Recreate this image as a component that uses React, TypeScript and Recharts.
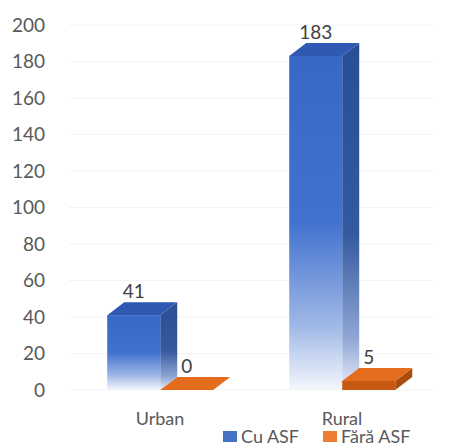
import React from 'react'
import { BarChart, Bar, XAxis, YAxis, CartesianGrid, Legend, LabelList } from 'recharts'

const categories = ['Urban', 'Rural']
const cuAsf = [41, 183]
const faraAsf = [0, 5]
const seriesNames = ['Cu ASF', 'Fără ASF']
const yTicks = [0, 20, 40, 60, 80, 100, 120, 140, 160, 180, 200]

const data = categories.map((name, i) => ({ name, cu: cuAsf[i], fara: faraAsf[i] }))

const DX = 17
const DY = -13
const FONT = 'Lato, "Open Sans", sans-serif'

const palette = {
  blue: { front: 'url(#blueFront)', side: 'url(#blueSide)', top: '#2f59b2', swatch: '#4472c4' },
  orange: { front: '#c65a12', side: '#a94c0d', top: '#e46d1d', swatch: '#ed7d31' },
}

function Box3D(props: any) {
  const { x, y, width: w, height, kind } = props
  const h = Math.max(0, height || 0)
  const c = palette[kind as 'blue' | 'orange']
  return (
    <g>
      <polygon
        points={`${x + w},${y} ${x + w + DX},${y + DY} ${x + w + DX},${y + h + DY} ${x + w},${y + h}`}
        fill={c.side}
      />
      <rect x={x} y={y} width={w} height={h} fill={c.front} />
      <polygon
        points={`${x},${y} ${x + DX},${y + DY} ${x + w + DX},${y + DY} ${x + w},${y}`}
        fill={c.top}
      />
    </g>
  )
}

function ValueLabel(props: any) {
  const { x, y, width, value } = props
  return (
    <text
      x={x + width / 2}
      y={y - 24}
      dy="0.35em"
      textAnchor="middle"
      fill="#404040"
      fontSize={19}
      fontFamily={FONT}
    >
      {value}
    </text>
  )
}

function LegendContent() {
  const colors = [palette.blue.swatch, palette.orange.swatch]
  return (
    <div style={{ display: 'flex', height: 18, lineHeight: '18px', alignItems: 'center', fontFamily: FONT, fontSize: 18, color: '#595959' }}>
      {seriesNames.map((n, i) => (
        <div key={n} style={{ display: 'flex', alignItems: 'center', marginRight: i === 0 ? 24 : 0 }}>
          <span style={{ display: 'inline-block', width: 14, height: 11, background: colors[i], marginRight: 4 }} />
          <span>{n}</span>
        </div>
      ))}
    </div>
  )
}

export default function App() {
  return (
    <div style={{ position: 'absolute', left: 0, top: 0, background: '#fff' }}>
      <BarChart
        width={450}
        height={448}
        data={data}
        margin={{ top: 25, right: 17, bottom: 10, left: 0 }}
        barCategoryGap="21%"
        barGap={0}
      >
        <defs>
          <linearGradient id="blueFront" x1="0" y1="0" x2="0" y2="1">
            <stop offset="0" stopColor="#3868c6" />
            <stop offset="0.5" stopColor="#4272cf" />
            <stop offset="0.8" stopColor="#9db6e6" />
            <stop offset="1" stopColor="#f4f7fc" />
          </linearGradient>
          <linearGradient id="blueSide" x1="0" y1="0" x2="0" y2="1">
            <stop offset="0" stopColor="#2a4e96" />
            <stop offset="0.55" stopColor="#34599f" />
            <stop offset="0.85" stopColor="#8fa6d4" />
            <stop offset="1" stopColor="#e9eef8" />
          </linearGradient>
        </defs>
        <CartesianGrid vertical={false} stroke="#f3f3f3" />
        <XAxis
          dataKey="name"
          axisLine={false}
          tickLine={false}
          tickSize={0}
          tickMargin={22}
          height={30}
          tick={{ fill: '#595959', fontSize: 18, fontFamily: FONT }}
        />
        <YAxis
          domain={[0, 200]}
          ticks={yTicks}
          interval={0}
          width={69}
          axisLine={false}
          tickLine={false}
          tickSize={0}
          tickMargin={24}
          tick={{ fill: '#595959', fontSize: 19, fontFamily: FONT }}
        />
        <Legend
          verticalAlign="bottom"
          content={<LegendContent />}
          wrapperStyle={{ left: 223, top: 427, width: 220, height: 18 }}
        />
        <Bar
          dataKey="cu"
          name={seriesNames[0]}
          fill={palette.blue.swatch}
          isAnimationActive={false}
          shape={(p: any) => <Box3D {...p} kind="blue" />}
        >
          <LabelList dataKey="cu" content={<ValueLabel />} />
        </Bar>
        <Bar
          dataKey="fara"
          name={seriesNames[1]}
          fill={palette.orange.swatch}
          isAnimationActive={false}
          shape={(p: any) => <Box3D {...p} kind="orange" />}
        >
          <LabelList dataKey="fara" content={<ValueLabel />} />
        </Bar>
      </BarChart>
    </div>
  )
}
